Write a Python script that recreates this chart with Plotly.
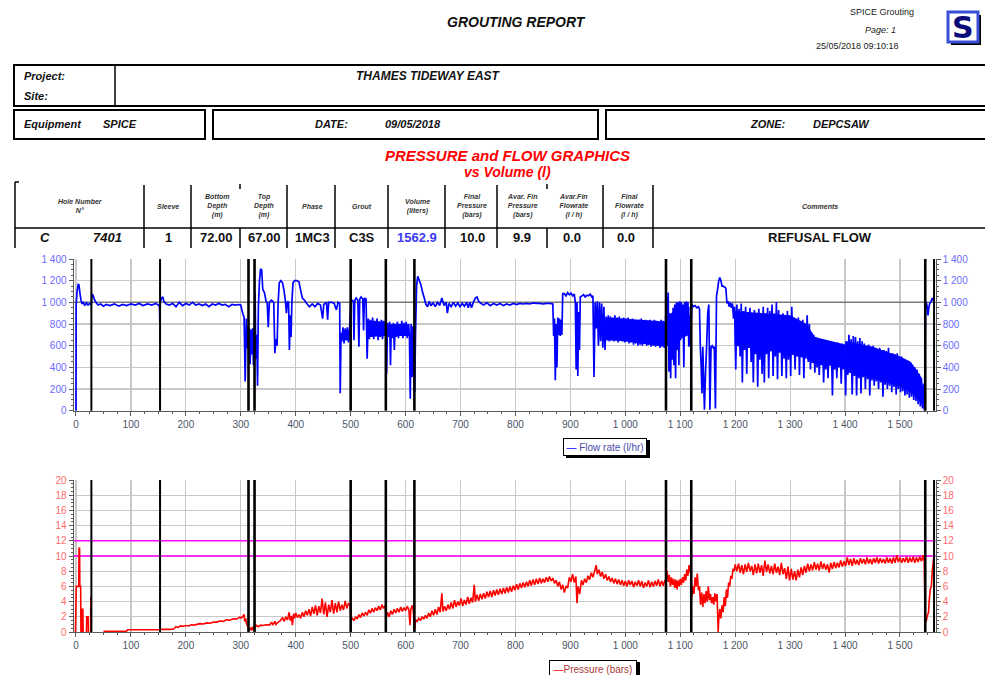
import plotly.graph_objects as go

W, H = 985, 675

# ---------------- data ----------------
sleeve_volumes = [28, 153, 314, 325, 500, 564, 616, 1074, 1120, 1546, 1562]
flow_limit = 1000
pressure_limits = [10, 12]
flow_ticks = [0, 200, 400, 600, 800, 1000, 1200, 1400]
pressure_ticks = [0, 2, 4, 6, 8, 10, 12, 14, 16, 18, 20]

flow_samples = [
    (0, 0), (0.3, 980), (2, 1100), (4, 1170), (5.5, 1160), (7, 1090), (9, 1020), (11, 985), (13, 1005), (16, 970),
    (19, 995), (22, 975), (25, 990), (28, 975), (29, 1075), (31, 1065), (34, 1020), (37, 995), (40, 975), (45, 985),
    (50, 965), (55, 980), (62, 970), (70, 985), (78, 965), (85, 980), (92, 970), (100, 985), (108, 975), (115, 990),
    (122, 970), (130, 985), (138, 975), (145, 990), (150, 975), (152, 960), (152.6, 800), (153.5, 1000), (156, 1040),
    (158, 1050), (160, 1010), (164, 985), (170, 975), (176, 990), (182, 960), (188, 1000), (194, 970), (200, 990),
    (206, 975), (212, 1000), (218, 975), (224, 985), (230, 970), (236, 985), (242, 960), (248, 985), (254, 975),
    (260, 990), (266, 975), (272, 980), (278, 960), (284, 980), (290, 975), (296, 980), (300, 975),
    (302, 930), (304, 890), (306, 860), (308, 270), (310, 850), (311.5, 580), (313, 780), (314, 560), (315.5, 760),
    (317, 430), (318.5, 750), (320, 520), (321.5, 760), (323, 420), (324.5, 700), (326, 1090), (327.5, 480), (329, 700),
    (330.5, 230), (332, 960), (334, 1200), (336, 1310), (338, 1300), (340, 1120), (343, 1090), (346, 1010), (348, 1000),
    (350, 770), (352, 1000), (356, 1020), (360, 1000), (362, 530), (364, 660), (366, 600), (368, 1000), (370, 1180),
    (373, 1200), (376, 1180), (379, 1100), (381, 1020), (383, 900), (385, 1010), (387, 1000), (388.5, 560), (390, 880),
    (391.5, 680), (393, 1000), (395, 1180), (398, 1200), (402, 1200), (406, 1190), (409, 1110), (412, 1040), (416, 1020),
    (420, 990), (425, 960), (430, 985), (435, 960), (440, 990), (445, 975), (449, 850), (451, 980), (456, 1000),
    (458, 840), (460, 1000), (466, 1000), (470, 990), (474, 930), (477, 1000), (480, 990), (481, 160), (482.5, 720),
    (484, 640), (486, 770), (488, 620), (490, 760), (492, 650), (494, 770), (496, 630), (498, 750), (500, 1000),
    (502, 1020), (505, 1010), (506, 650), (507.5, 1020), (510, 1040), (513, 1020), (515, 590), (516.5, 1030), (519, 1050),
    (522, 1030), (523.5, 740), (525, 1040), (528, 1030), (530, 480), (532, 850), (534, 660), (536, 840), (538, 680),
    (540, 860), (542, 660), (544, 830), (546, 690), (548, 850), (550, 650), (552, 820), (554, 680), (556, 840),
    (558, 660), (560, 830), (562, 690), (564, 800), (565.5, 340), (567, 810), (569, 680), (571, 820), (572.5, 420),
    (574, 800), (576, 670), (578, 810), (579.5, 560), (581, 790), (583, 680), (585, 820), (587, 670), (589, 800),
    (591, 690), (593, 830), (595, 670), (597, 810), (599, 690), (601, 820), (603, 670), (605, 800), (607, 690),
    (608.5, 110), (610, 800), (612, 310), (613.5, 780), (615, 690), (616.5, 170), (618, 700), (620, 1150), (622, 1240),
    (625, 1200), (628, 1160), (631, 1090), (634, 1040), (637, 980), (640, 960), (643, 1010), (646, 970), (650, 995),
    (654, 960), (658, 1000), (662, 970), (666, 1040), (670, 970), (674, 1000), (676, 900), (679, 990), (683, 960),
    (687, 1000), (691, 965), (695, 995), (699, 960), (703, 990), (707, 965), (711, 1000), (714, 950), (717, 1000),
    (720, 950), (723, 995), (727, 1040), (730, 1050), (733, 1010), (737, 990), (742, 975), (748, 995), (754, 970),
    (760, 990), (766, 975), (772, 990), (778, 970), (784, 985), (790, 975), (796, 990), (802, 980), (808, 990),
    (814, 985), (820, 990), (826, 985), (832, 995), (838, 990), (844, 990), (850, 985), (856, 990), (862, 990),
    (868, 985), (869.5, 690), (871, 850), (872.5, 280), (874, 800), (875.5, 400), (877, 860), (878.5, 700), (880, 850),
    (881.5, 690), (883, 840), (884.5, 700), (886, 1080), (889, 1080), (892, 1060), (895, 1090), (898, 1070), (901, 1085),
    (904, 1060), (907, 1075), (909, 1000), (910.5, 380), (912, 1000), (913.5, 320), (915, 910), (916.5, 560), (918, 1050),
    (921, 1060), (924, 1070), (927, 1050), (930, 1065), (933, 1060), (936, 1075), (939, 1050), (941, 1060), (943, 310),
    (945, 1000), (947, 760), (949, 1010), (951, 600), (953, 1000), (955, 640), (957, 990), (959, 580), (961, 960),
    (963, 560), (965, 870), (967, 650), (969, 880), (971, 640), (973, 870), (975, 660), (977, 860), (979, 640),
    (981, 880), (983, 650), (985, 860), (987, 630), (989, 870), (991, 650), (993, 850), (995, 640), (997, 860),
    (999, 630), (1001, 850), (1003, 640), (1005, 860), (1007, 620), (1009, 840), (1011, 630), (1013, 850), (1015, 610),
    (1017, 840), (1019, 620), (1021, 830), (1023, 600), (1025, 840), (1027, 610), (1029, 850), (1031, 600), (1033, 830),
    (1035, 620), (1037, 840), (1039, 600), (1041, 830), (1043, 610), (1045, 840), (1047, 590), (1049, 820), (1051, 600),
    (1053, 840), (1055, 590), (1057, 830), (1059, 600), (1061, 820), (1063, 580), (1065, 840), (1067, 590), (1069, 830),
    (1071, 580), (1073, 800), (1075, 1050), (1076.5, 600), (1078, 1090), (1079.5, 360), (1081, 900), (1082.5, 300),
    (1084, 880), (1085.5, 470), (1087, 950), (1088.5, 420), (1090, 980), (1091.5, 300), (1093, 1000), (1094.5, 560),
    (1096, 1000), (1097.5, 420), (1099, 1010), (1100.5, 650), (1102, 1000), (1103.5, 700), (1105, 980), (1106.5, 400),
    (1108, 1000), (1109.5, 700), (1111, 1010), (1112.5, 800), (1114, 1000), (1115.5, 590), (1117, 880), (1118.5, 600),
    (1121, 980), (1124, 960), (1127, 970), (1130, 950), (1133, 960), (1135, 940), (1136.5, 590), (1138, 420),
    (1139.5, 160), (1141, 590), (1142.5, 300), (1144, 10), (1146, 350), (1148, 600), (1150, 900), (1152, 980),
    (1154, 10), (1156, 590), (1158, 600), (1160, 580), (1162, 590), (1164, 20), (1166, 1060), (1168, 1120), (1170, 1200),
    (1172, 1230), (1174, 1200), (1176, 1150), (1178, 1150), (1181, 1140), (1183, 1130), (1185, 990), (1187, 1010),
    (1189, 960), (1191, 1000), (1193, 950), (1195, 990), (1197, 850), (1199, 960), (1201, 380), (1203, 980), (1205, 600),
    (1207, 940), (1209, 500), (1211, 990), (1213, 260), (1215, 920), (1217, 560), (1219, 960), (1221, 340), (1223, 900),
    (1225, 600), (1227, 950), (1229, 450), (1231, 880), (1233, 260), (1235, 930), (1237, 520), (1239, 900), (1241, 220),
    (1243, 940), (1245, 470), (1247, 880), (1249, 340), (1251, 960), (1253, 260), (1255, 900), (1257, 520), (1259, 950),
    (1261, 300), (1263, 920), (1265, 560), (1267, 980), (1269, 320), (1271, 900), (1273, 500), (1275, 1000), (1277, 290),
    (1279, 930), (1281, 540), (1283, 880), (1285, 320), (1287, 900), (1289, 480), (1291, 850), (1293, 300), (1295, 920),
    (1297, 470), (1299, 860), (1301, 320), (1303, 960), (1305, 520), (1307, 850), (1309, 380), (1311, 830), (1313, 500),
    (1315, 860), (1317, 330), (1319, 820), (1321, 520), (1323, 840), (1325, 300), (1327, 780), (1329, 500), (1331, 880),
    (1333, 450), (1335, 800), (1337, 380), (1339, 720), (1341, 440), (1343, 700), (1345, 350), (1347, 680), (1349, 400),
    (1351, 660), (1353, 330), (1355, 650), (1357, 420), (1359, 640), (1361, 260), (1363, 640), (1365, 380), (1367, 630),
    (1369, 300), (1371, 640), (1373, 420), (1375, 620), (1377, 140), (1379, 630), (1381, 380), (1383, 610), (1385, 300),
    (1387, 630), (1389, 400), (1391, 600), (1393, 250), (1395, 620), (1397, 380), (1399, 600), (1401, 140), (1403, 640),
    (1405, 330), (1407, 700), (1409, 380), (1411, 660), (1413, 150), (1415, 690), (1417, 320), (1419, 680), (1421, 140),
    (1423, 640), (1425, 300), (1427, 670), (1429, 160), (1431, 640), (1433, 310), (1435, 620), (1437, 200), (1439, 600),
    (1441, 290), (1443, 610), (1445, 140), (1447, 590), (1449, 280), (1451, 600), (1453, 230), (1455, 580), (1457, 270),
    (1459, 570), (1461, 200), (1463, 580), (1465, 260), (1467, 560), (1469, 130), (1471, 560), (1473, 240), (1475, 550),
    (1477, 200), (1479, 580), (1481, 230), (1483, 530), (1485, 170), (1487, 530), (1489, 220), (1491, 520), (1493, 150),
    (1495, 530), (1497, 200), (1499, 500), (1501, 170), (1503, 500), (1505, 180), (1507, 480), (1509, 140), (1511, 470),
    (1513, 150), (1515, 460), (1517, 120), (1519, 430), (1521, 130), (1523, 420), (1525, 100), (1527, 400), (1529, 90),
    (1531, 380), (1533, 60), (1535, 340), (1537, 40), (1539, 300), (1541, 20), (1543, 250), (1544.5, 0),
    (1546.5, 980), (1548, 1000), (1549.5, 960), (1551, 880), (1552.5, 950), (1554, 990), (1556, 1000), (1558, 1030),
    (1560, 1020), (1562, 1060),
]

# solid core of the densely oscillating flow zones: (volume, upper, lower)
flow_core_segments = [
    [(484, 740, 650), (498, 730, 650)],
    [(532, 830, 680), (563, 820, 690)],
    [(567, 800, 690), (607, 800, 690)],
    [(965, 860, 650), (1000, 850, 640), (1040, 835, 610), (1073, 820, 590)],
    [(1078, 880, 600), (1095, 940, 650), (1117, 960, 700)],
    [(1199, 920, 600), (1250, 900, 560), (1300, 880, 520), (1330, 800, 480)],
    [(1330, 800, 480), (1345, 680, 430), (1400, 610, 400)],
    [(1400, 640, 360), (1450, 590, 300), (1500, 500, 220), (1520, 450, 170), (1540, 300, 60)],
]

pressure_samples = [
    (-1, 0), (0.5, 6), (3, 6), (5, 6), (5.5, 11), (6.5, 11), (7, 6), (8.5, 6), (9, 0), (11, 0), (11.5, 3), (12.5, 3),
    (13, 0), (14, 0), (14, None), (19, 0), (19.5, 2), (22, 2), (22.5, 0), (22.5, None), (26.5, 0), (27, 4.6), (27.5, 0),
    (27.5, None),
    (50, 0.1), (60, 0.1), (70, 0.1), (80, 0.1), (92, 0.12), (94, 0.3), (110, 0.3), (130, 0.3), (150, 0.3), (153, 0.35),
    (170, 0.35), (178, 0.4), (182, 0.7), (186, 0.6), (190, 0.8), (196, 0.75), (200, 0.85), (205, 0.8), (210, 0.95),
    (215, 0.9), (220, 1.0), (226, 1.1), (232, 1.05), (238, 1.2), (244, 1.15), (250, 1.3), (256, 1.3), (262, 1.45),
    (268, 1.4), (274, 1.6), (280, 1.55), (286, 1.75), (292, 1.7), (298, 1.95), (301, 1.85), (304, 2.1), (306, 2.3),
    (307, 1.4), (309, 1.8), (310, 1.2), (312, 0.8), (314, 0.5), (316, 0.3), (318, 0.6), (320, 0.2), (322, 0.7),
    (324, 0.3), (326, 0.6), (328, 0.9), (332, 0.7), (336, 0.9), (340, 0.85), (346, 0.95), (352, 0.9), (356, 1.3),
    (358, 0.9), (362, 1.4), (364, 1.0), (368, 1.3), (372, 1.5), (376, 1.9), (379, 1.4), (382, 2.0), (385, 1.6),
    (388, 2.6), (390, 1.5), (392, 2.1), (394, 0.9), (396, 2.4), (398, 1.8), (400, 2.5), (403, 1.9), (406, 2.3),
    (409, 1.8), (412, 2.6), (415, 2.0), (418, 2.8), (421, 2.2), (424, 3.0), (427, 2.1), (430, 3.3), (433, 2.4),
    (436, 3.5), (439, 2.2), (442, 3.4), (445, 2.5), (448, 4.4), (451, 2.3), (454, 3.9), (457, 2.0), (460, 3.6),
    (463, 2.6), (466, 4.2), (469, 2.4), (472, 3.8), (475, 2.6), (478, 4.0), (481, 2.8), (484, 3.6), (487, 2.9),
    (490, 4.1), (493, 3.1), (496, 3.8), (499, 3.5), (500.5, 1.5), (503, 1.8), (506, 1.5), (509, 2.0), (512, 1.7),
    (515, 2.3), (518, 1.9), (521, 2.5), (524, 2.1), (527, 2.6), (530, 2.2), (533, 2.9), (536, 2.5), (539, 3.1),
    (542, 2.6), (545, 3.2), (548, 2.8), (551, 3.4), (554, 2.9), (557, 3.6), (560, 3.1), (563, 3.5), (564.5, 1.8),
    (567, 2.6), (570, 2.0), (573, 2.8), (576, 2.3), (579, 3.0), (582, 2.5), (585, 3.1), (588, 2.6), (591, 3.3),
    (594, 2.7), (597, 3.2), (600, 2.8), (603, 3.4), (606, 2.9), (608, 0.9), (609.5, 3.0), (612, 3.5), (614, 2.9),
    (616.5, 0.2), (618, 1.6), (621, 1.4), (624, 1.8), (627, 1.5), (630, 2.0), (633, 1.7), (636, 2.2), (639, 1.8),
    (642, 2.5), (645, 2.0), (648, 2.8), (651, 2.2), (654, 3.0), (657, 2.3), (660, 3.3), (663, 2.6), (666, 5.1),
    (668, 2.7), (671, 3.4), (674, 2.8), (677, 3.6), (680, 3.0), (683, 3.9), (686, 3.1), (689, 4.2), (692, 3.3),
    (695, 4.0), (698, 3.5), (701, 4.4), (704, 3.4), (707, 4.2), (710, 3.6), (713, 4.6), (716, 3.7), (719, 4.5),
    (722, 3.9), (725, 6.2), (727, 4.0), (730, 4.9), (733, 4.1), (736, 5.0), (739, 4.3), (742, 5.1), (745, 4.4),
    (748, 5.3), (751, 4.6), (754, 5.4), (757, 4.6), (760, 5.5), (763, 4.8), (766, 5.6), (769, 4.9), (772, 5.7),
    (775, 5.0), (778, 5.8), (781, 5.1), (784, 5.9), (787, 5.2), (790, 6.0), (793, 5.3), (796, 6.1), (799, 5.5),
    (802, 6.3), (805, 5.6), (808, 6.4), (811, 5.8), (814, 6.5), (817, 5.9), (820, 6.6), (823, 6.0), (826, 6.8),
    (829, 6.1), (832, 6.9), (835, 6.2), (838, 7.0), (841, 6.3), (844, 7.1), (847, 6.4), (850, 7.0), (853, 6.5),
    (856, 7.2), (859, 6.6), (862, 7.3), (865, 6.7), (868, 7.1), (871, 6.4), (874, 6.8), (877, 6.0), (880, 6.6),
    (883, 5.6), (886, 6.2), (889, 5.2), (892, 6.0), (895, 5.8), (898, 7.2), (901, 6.6), (904, 7.6), (907, 6.5),
    (910, 7.3), (912, 3.8), (914, 6.0), (917, 5.0), (920, 6.8), (923, 6.2), (926, 7.0), (929, 6.5), (932, 7.4),
    (935, 6.9), (938, 7.8), (941, 7.2), (944, 8.0), (947, 8.8), (949, 7.6), (952, 8.2), (955, 7.3), (958, 7.9),
    (961, 7.0), (964, 7.6), (967, 6.8), (970, 7.3), (973, 6.6), (976, 7.1), (979, 6.4), (982, 7.0), (985, 6.3),
    (988, 6.9), (991, 6.2), (994, 6.8), (997, 6.1), (1000, 6.7), (1003, 6.0), (1006, 6.8), (1009, 6.2), (1012, 6.7),
    (1015, 5.9), (1018, 6.6), (1021, 6.1), (1024, 6.8), (1027, 6.0), (1030, 6.7), (1033, 5.8), (1036, 6.5),
    (1039, 6.0), (1042, 6.8), (1045, 5.9), (1048, 6.6), (1051, 6.0), (1054, 6.7), (1057, 6.1), (1060, 6.9),
    (1063, 6.0), (1066, 6.7), (1069, 6.1), (1072, 6.8), (1074, 6.5), (1076, 8.0), (1078, 6.6), (1080, 7.5),
    (1082, 6.0), (1084, 7.2), (1086, 6.2), (1088, 7.0), (1090, 5.8), (1092, 6.9), (1094, 5.6), (1096, 6.8),
    (1098, 6.0), (1100, 7.0), (1102, 6.2), (1104, 7.2), (1106, 6.5), (1108, 7.6), (1110, 6.8), (1112, 8.2),
    (1114, 7.4), (1116, 8.8), (1118, 7.8), (1119.5, 9.0), (1121, 4.6), (1123, 6.0), (1125, 5.0), (1127, 7.2),
    (1129, 6.0), (1131, 7.7), (1133, 5.5), (1135, 6.0), (1137, 3.6), (1139, 5.2), (1141, 3.3), (1143, 5.0),
    (1145, 3.8), (1147, 5.4), (1149, 4.0), (1151, 6.0), (1153, 4.2), (1155, 5.0), (1157, 3.8), (1159, 4.6),
    (1161, 3.6), (1163, 5.1), (1165, 4.0), (1167, 5.0), (1169, 0.0), (1170, 1.5), (1172, 3.0), (1174, 1.8),
    (1176, 3.5), (1178, 2.6), (1180, 4.6), (1182, 3.4), (1184, 5.6), (1186, 4.5), (1188, 6.5), (1190, 6.0),
    (1192, 7.4), (1194, 7.0), (1196, 8.3), (1198, 8.0), (1200, 8.9), (1203, 8.0), (1206, 9.0), (1209, 7.8),
    (1212, 8.8), (1215, 7.6), (1218, 8.9), (1221, 7.9), (1224, 9.1), (1227, 8.0), (1230, 8.7), (1233, 7.5),
    (1236, 8.9), (1239, 7.7), (1242, 9.0), (1245, 7.8), (1248, 8.8), (1251, 7.4), (1254, 9.4), (1257, 7.9),
    (1260, 8.9), (1263, 7.7), (1266, 8.7), (1269, 7.6), (1272, 9.0), (1275, 7.8), (1278, 8.6), (1281, 7.5),
    (1284, 9.1), (1287, 7.6), (1290, 8.4), (1293, 7.0), (1296, 8.6), (1299, 6.8), (1302, 8.3), (1305, 6.9),
    (1308, 8.0), (1311, 6.8), (1314, 8.2), (1317, 7.2), (1320, 8.5), (1323, 7.5), (1326, 8.7), (1329, 7.8),
    (1332, 9.0), (1335, 8.0), (1338, 8.9), (1341, 8.1), (1344, 9.2), (1347, 8.2), (1350, 9.0), (1353, 8.1),
    (1356, 9.3), (1359, 8.3), (1362, 9.0), (1365, 8.2), (1368, 8.9), (1371, 7.8), (1374, 9.1), (1377, 8.3),
    (1380, 9.2), (1383, 8.4), (1386, 9.1), (1389, 8.5), (1392, 9.4), (1395, 8.6), (1398, 9.3), (1401, 8.7),
    (1404, 9.8), (1407, 8.8), (1410, 9.6), (1413, 8.7), (1416, 9.7), (1419, 8.9), (1422, 9.5), (1425, 8.8),
    (1428, 9.7), (1431, 9.0), (1434, 9.6), (1437, 8.9), (1440, 9.8), (1443, 9.0), (1446, 9.6), (1449, 8.9),
    (1452, 9.7), (1455, 9.1), (1458, 9.8), (1461, 9.0), (1464, 9.7), (1467, 9.1), (1470, 9.6), (1473, 9.0),
    (1476, 9.8), (1479, 9.1), (1482, 9.7), (1485, 9.0), (1488, 9.8), (1491, 9.1), (1494, 10.1), (1497, 9.2),
    (1500, 9.8), (1503, 9.1), (1506, 9.7), (1509, 9.2), (1512, 9.9), (1515, 9.1), (1518, 9.8), (1521, 9.2),
    (1524, 9.9), (1527, 9.1), (1530, 9.8), (1533, 9.2), (1536, 9.9), (1539, 9.3), (1542, 10.1), (1544, 9.4),
    (1546, 1.2), (1548, 1.5), (1550, 2.2), (1552, 2.6), (1553, 4.0), (1555, 5.6), (1557, 6.0), (1559, 8.2),
    (1561, 9.6), (1562, 9.9),
]

table_headers = ["Hole Number<br>N°", "Sleeve", "Bottom<br>Depth<br>(m)", "Top<br>Depth<br>(m)", "Phase", "Grout",
                 "Volume<br>(liters)", "Final<br>Pressure<br>(bars)", "Avar. Fin<br>Pressure<br>(bars)",
                 "Avar.Fin<br>Flowrate<br>(l / h)", "Final<br>Flowrate<br>(l / h)", "Comments"]
table_values = ["1", "72.00", "67.00", "1MC3", "C3S", "1562.9", "10.0", "9.9", "0.0", "0.0", "REFUSAL FLOW"]

flow_volume = [p[0] for p in flow_samples]
flow_rate = [p[1] for p in flow_samples]
pressure_volume = [p[0] for p in pressure_samples]
pressure_bar = [p[1] for p in pressure_samples]

# ---------------- helpers ----------------
def fx(p):
    return p / W


def fy(p):
    return 1 - p / H


NARROW = "Liberation Sans Narrow, Arial Narrow, Liberation Sans, Arial, sans-serif"
ARIAL = "Liberation Sans, Arial, sans-serif"

shapes = []
annotations = []


def line(x0, y0, x1, y1, w=1.0, c="black"):
    shapes.append(dict(type="line", xref="paper", yref="paper", x0=fx(x0), y0=fy(y0), x1=fx(x1), y1=fy(y1),
                       line=dict(color=c, width=w)))


def rect(x0, y0, x1, y1, w=1.5, c="black", fill=None):
    d = dict(type="rect", xref="paper", yref="paper", x0=fx(x0), y0=fy(y1), x1=fx(x1), y1=fy(y0),
             line=dict(color=c, width=w))
    if fill:
        d["fillcolor"] = fill
    shapes.append(d)


def txt(x, y, s, size, color="#111111", bold=True, italic=True, xanchor="center", family=NARROW, **kw):
    if bold:
        s = "<b>" + s + "</b>"
    if italic:
        s = "<i>" + s + "</i>"
    annotations.append(dict(x=fx(x), y=fy(y), xref="paper", yref="paper", text=s, showarrow=False,
                            xanchor=xanchor, yanchor="middle", font=dict(size=size, color=color, family=family), **kw))


# ---------------- header ----------------
txt(516, 22, "GROUTING REPORT", 14)
txt(882, 12, "SPICE Grouting", 9, color="#222", bold=False, italic=False)
txt(880, 30, "Page: 1", 9, color="#222", bold=False, italic=True)
txt(857, 46, "25/05/2018 09:10:18", 9, color="#222", bold=False, italic=False)

# logo
rect(951, 15, 981, 45, w=0, c="black", fill="black")
rect(948, 12, 978, 42, w=3, c="#3b4fd6", fill="white")
txt(963, 28, "S", 30, color="#0a0a7a", bold=True, italic=False, family="DejaVu Sans, Arial")

# project box
rect(14, 65, 990, 106, w=2)
line(115, 65, 115, 106, w=1.5)
txt(22, 76, "Project:", 11, xanchor="left")
txt(22, 96, "Site:", 11, xanchor="left")
txt(428, 76, "THAMES TIDEWAY EAST", 12)

rect(14, 110, 205, 139, w=2)
rect(213, 110, 598, 139, w=2)
rect(606, 110, 990, 139, w=2)
txt(22, 124, "Equipment", 11, xanchor="left")
txt(101, 124, "SPICE", 11, xanchor="left")
txt(313, 124, "DATE:", 11, xanchor="left")
txt(383, 124, "09/05/2018", 11, xanchor="left")
txt(748, 124, "ZONE:", 11, xanchor="left")
txt(811, 124, "DEPCSAW", 11, xanchor="left")

txt(507, 155, "PRESSURE and FLOW GRAPHICS", 15, color="#ff0000")
txt(508, 172, "vs Volume (l)", 14, color="#ff0000")

# table lines
line(15, 182, 15, 248, w=1.5)
line(15, 182, 19, 182, w=1.5)
line(15, 228, 985, 228, w=1.5)
for xs in [144, 191, 287, 335, 388, 445, 497, 603, 653]:
    line(xs, 185, xs, 248, w=1.5)
for xs in [240, 547]:
    line(xs, 228, xs, 248, w=1.5)
    line(xs, 184, xs, 189, w=1.5)

header_x = [80, 168, 217, 264, 312, 362, 417, 472, 522, 573, 629, 820]
for hx, ht in zip(header_x, table_headers):
    txt(hx, 206, ht, 7, color="#333333")

txt(45, 238, "C", 13)
txt(107, 238, "7401", 13)
value_x = [168, 216, 264, 312, 362, 417, 472, 522, 572, 626, 820]
for vx, vt in zip(value_x, table_values):
    col = "#3a3af5" if vt == "1562.9" else "#111111"
    txt(vx, 238, vt, 13, color=col, italic=False, family=ARIAL)

# legends (manual boxes with shadow)
rect(566, 440, 650, 458, w=0, fill="black")
annotations.append(dict(x=fx(605), y=fy(446.5), xref="paper", yref="paper", showarrow=False,
                        text="<span style='color:#0000ff'>—</span> Flow rate (l/hr)",
                        font=dict(size=10, color="#4b4ba8", family=ARIAL), bordercolor="black", borderwidth=1,
                        borderpad=1, bgcolor="white", width=80, height=14, xanchor="center", yanchor="middle"))
rect(552, 662, 640, 680, w=0, fill="black")
annotations.append(dict(x=fx(593), y=fy(668.5), xref="paper", yref="paper", showarrow=False,
                        text="<span style='color:#ff0000'>—</span>Pressure (bars)",
                        font=dict(size=10, color="#a83a3a", family=ARIAL), bordercolor="black", borderwidth=1,
                        borderpad=1, bgcolor="white", width=84, height=14, xanchor="center", yanchor="middle"))

# ---------------- chart ----------------
X0, X1 = -4.5, 1565
PPU = 824 / 1500.0
xdom = [fx(76 + X0 * PPU), fx(76 + X1 * PPU)]

fig = go.Figure()
for seg in flow_core_segments:
    seg_x = [p[0] for p in seg] + [p[0] for p in reversed(seg)]
    seg_y = [p[1] for p in seg] + [p[2] for p in reversed(seg)]
    fig.add_trace(go.Scatter(x=seg_x, y=seg_y, mode="lines", fill="toself", fillcolor="#0000ff",
                             line=dict(width=0, color="#0000ff"), xaxis="x", yaxis="y", showlegend=False,
                             hoverinfo="skip"))
fig.add_trace(go.Scatter(x=flow_volume, y=flow_rate, mode="lines", name="Flow rate (l/hr)",
                         line=dict(color="#0000ff", width=1.7, simplify=False), xaxis="x", yaxis="y",
                         showlegend=False))
fig.add_trace(go.Scatter(x=[None], y=[None], xaxis="x", yaxis="y2", showlegend=False, hoverinfo="skip"))
fig.add_trace(go.Scatter(x=pressure_volume, y=pressure_bar, mode="lines", name="Pressure (bars)",
                         line=dict(color="#ff0000", width=1.6, simplify=False), xaxis="x2", yaxis="y3",
                         showlegend=False, connectgaps=False))
fig.add_trace(go.Scatter(x=[None], y=[None], xaxis="x2", yaxis="y4", showlegend=False, hoverinfo="skip"))

GRID = "#c8c8c8"
AX = "#5a5a5a"
xfont = dict(family=ARIAL, size=10, color="#4a5566")


def xaxis_cfg(anchor):
    return dict(domain=xdom, range=[X0, X1], anchor=anchor, tick0=0, dtick=100, tickformat=",d",
                showgrid=True, gridcolor=GRID, gridwidth=1.2, zeroline=False, showline=True, linecolor=AX,
                linewidth=1, ticks="outside", ticklen=4, tickcolor=AX, tickfont=xfont, automargin=False,
                minor=dict(dtick=25, tick0=0, ticklen=2, tickcolor=AX, showgrid=False, ticks="outside"))


def yaxis_cfg(dom, rng, ticks, minor_dtick, color, side="left", overlay=None, anchor=None):
    d = dict(domain=dom, range=rng, tickvals=ticks, tickformat=",d", showgrid=(overlay is None),
             gridcolor=GRID, gridwidth=1.2, zeroline=False, showline=True, linecolor=AX, linewidth=1,
             ticks="outside", ticklen=4, tickcolor=AX, side=side, automargin=False,
             tickfont=dict(family=ARIAL, size=10, color=color),
             minor=dict(dtick=minor_dtick, tick0=0, ticklen=2, tickcolor=AX, showgrid=False, ticks="outside"))
    if overlay:
        d["overlaying"] = overlay
        d.pop("domain")
    if anchor:
        d["anchor"] = anchor
    return d


ydom_top = [fy(410.7), fy(259)]
ydom_bot = [fy(632), fy(480)]

fig.update_layout(
    template="none",
    xaxis=xaxis_cfg("y"),
    xaxis2=xaxis_cfg("y3"),
    yaxis=yaxis_cfg(ydom_top, [0, 1400], flow_ticks, 50, "#6b6bff", anchor="x"),
    yaxis2=yaxis_cfg(ydom_top, [0, 1400], flow_ticks, 50, "#6b6bff", side="right", overlay="y", anchor="x"),
    yaxis3=yaxis_cfg(ydom_bot, [0, 20], pressure_ticks, 0.5, "#ff6b6b", anchor="x2"),
    yaxis4=yaxis_cfg(ydom_bot, [0, 20], pressure_ticks, 0.5, "#ff6b6b", side="right", overlay="y3", anchor="x2"),
)

# reference lines
shapes.append(dict(type="line", xref="x", yref="y", x0=X0, x1=X1, y0=flow_limit, y1=flow_limit,
                   line=dict(color="#7a7a7a", width=1.5), layer="between"))
for pl in pressure_limits:
    shapes.append(dict(type="line", xref="x2", yref="y3", x0=X0, x1=X1, y0=pl, y1=pl,
                       line=dict(color="#ff00ff", width=1.5), layer="between"))
for sv in sleeve_volumes:
    w = 2 if sv in (28, 153, 1562) else 2.6
    shapes.append(dict(type="line", xref="x", yref="y domain", x0=sv, x1=sv, y0=0, y1=1,
                       line=dict(color="black", width=w), layer="above"))
    shapes.append(dict(type="line", xref="x2", yref="y3 domain", x0=sv, x1=sv, y0=0, y1=1,
                       line=dict(color="black", width=w), layer="above"))

fig.update_layout(
    width=W, height=H, autosize=False,
    margin=dict(l=0, r=0, t=0, b=0, pad=0, autoexpand=False),
    paper_bgcolor="white", plot_bgcolor="white",
    separators=". ",
    showlegend=False,
    shapes=shapes,
    annotations=annotations,
    font=dict(family=ARIAL),
)

fig.write_html("out.html", config={"displayModeBar": False, "staticPlot": True},
               post_script="document.body.style.margin='0px';document.body.style.overflow='hidden';")
